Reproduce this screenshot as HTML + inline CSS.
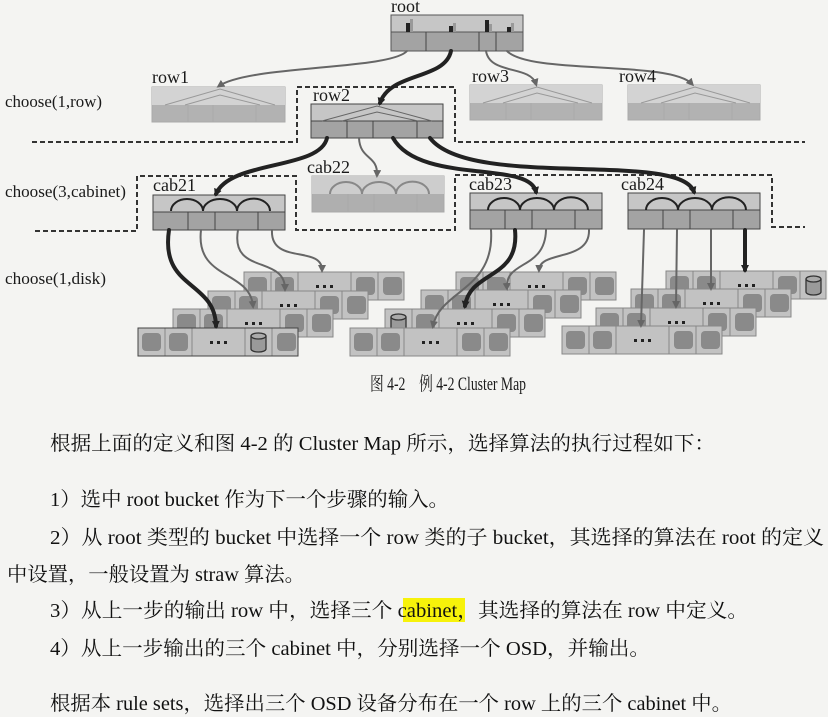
<!DOCTYPE html>
<html><head><meta charset="utf-8"><style>
html,body{margin:0;padding:0;background:#f4f4f2;}
svg{display:block;}
.lb{font-family:"Liberation Serif","Noto Serif CJK SC",serif;fill:#1a1a1a;}
.tx{font-family:"Liberation Serif","Noto Serif CJK SC",serif;fill:#111;font-size:20px;}
</style></head><body>
<svg width="828" height="717" viewBox="0 0 828 717" xmlns="http://www.w3.org/2000/svg">
<defs>
<marker id="ab" markerWidth="8" markerHeight="8" refX="5" refY="4" orient="auto" markerUnits="userSpaceOnUse"><path d="M0,0 L8,4 L0,8 z" fill="#222"/></marker>
<marker id="ag" markerWidth="8" markerHeight="8" refX="5" refY="4" orient="auto" markerUnits="userSpaceOnUse"><path d="M0,0 L8,4 L0,8 z" fill="#666"/></marker>
<g id="disk"><rect x="4" y="5" width="19" height="18" rx="4" fill="#8a8a8a"/></g>
<g id="drow">
<rect x="0" y="0" width="160" height="28" fill="#c2c2c2" stroke="#888" stroke-width="1"/>
<line x1="27" y1="0" x2="27" y2="28" stroke="#888"/><line x1="54" y1="0" x2="54" y2="28" stroke="#888"/>
<line x1="107" y1="0" x2="107" y2="28" stroke="#888"/><line x1="134" y1="0" x2="134" y2="28" stroke="#888"/>
<use href="#disk" x="0"/><use href="#disk" x="27"/><use href="#disk" x="108"/><use href="#disk" x="135"/>
<rect x="72" y="13" width="3" height="3" fill="#222"/><rect x="79" y="13" width="3" height="3" fill="#222"/><rect x="86" y="13" width="3" height="3" fill="#222"/>
</g>
<g id="cyl"><rect x="3" y="3" width="21" height="22" fill="#c2c2c2"/><path d="M6,8 v13 a7.5,3 0 0 0 15,0 v-13" fill="#9a9a9a" stroke="#333" stroke-width="1.3"/><ellipse cx="13.5" cy="8" rx="7.5" ry="3" fill="#aaa" stroke="#333" stroke-width="1.3"/></g>
</defs>

<!-- dashed outlines -->
<g fill="none" stroke="#333" stroke-width="2" stroke-dasharray="5,3">
<path d="M32 142 H297 V87 H455 V142 H805"/>
<path d="M35 231 H137 V176 H296 V230 H455 V175 H772 V227 H805"/>
</g>

<!-- root -->
<rect x="391" y="15" width="132" height="36" fill="#a3a3a3" stroke="#555"/>
<rect x="391" y="15" width="132" height="17" fill="#c6c6c6" stroke="#555"/>
<line x1="426" y1="32" x2="426" y2="51" stroke="#444"/><line x1="479" y1="32" x2="479" y2="51" stroke="#444"/><line x1="496" y1="32" x2="496" y2="51" stroke="#444"/>
<rect x="406" y="23" width="4" height="9" fill="#222"/><rect x="410" y="19" width="3" height="13" fill="#999"/>
<rect x="449" y="26" width="4" height="6" fill="#222"/><rect x="453" y="23" width="3" height="9" fill="#999"/>
<rect x="485" y="20" width="4" height="12" fill="#222"/><rect x="489" y="24" width="3" height="8" fill="#999"/>
<rect x="507" y="27" width="4" height="5" fill="#222"/><rect x="511" y="23" width="3" height="9" fill="#999"/>

<!-- rows -->
<g>
<rect x="152" y="87" width="133" height="35" fill="#b2b2b2" stroke="#aaa"/><rect x="152" y="87" width="133" height="18" fill="#d3d3d3"/>
<path d="M165 105 L220 89 L275 105 M185 105 L220 95 L260 105" fill="none" stroke="#999"/>
<line x1="188" y1="105" x2="188" y2="122" stroke="#aaa"/><line x1="213" y1="105" x2="213" y2="122" stroke="#aaa"/><line x1="256" y1="105" x2="256" y2="122" stroke="#aaa"/>

<rect x="470" y="85" width="132" height="35" fill="#b2b2b2" stroke="#aaa"/><rect x="470" y="85" width="132" height="18" fill="#d3d3d3"/>
<path d="M483 103 L537 87 L592 103 M503 103 L537 93 L578 103" fill="none" stroke="#999"/>
<line x1="506" y1="103" x2="506" y2="120" stroke="#aaa"/><line x1="531" y1="103" x2="531" y2="120" stroke="#aaa"/><line x1="574" y1="103" x2="574" y2="120" stroke="#aaa"/>

<rect x="628" y="85" width="132" height="35" fill="#b2b2b2" stroke="#aaa"/><rect x="628" y="85" width="132" height="18" fill="#d3d3d3"/>
<path d="M641 103 L695 87 L750 103 M661 103 L695 93 L736 103" fill="none" stroke="#999"/>
<line x1="664" y1="103" x2="664" y2="120" stroke="#aaa"/><line x1="689" y1="103" x2="689" y2="120" stroke="#aaa"/><line x1="732" y1="103" x2="732" y2="120" stroke="#aaa"/>

<rect x="311" y="104" width="132" height="34" fill="#a3a3a3" stroke="#444"/><rect x="311" y="104" width="132" height="17" fill="#c6c6c6" stroke="#444"/>
<path d="M322 121 L377 106 L432 121 M342 121 L377 112 L418 121" fill="none" stroke="#666"/>
<line x1="347" y1="121" x2="347" y2="138" stroke="#444"/><line x1="373" y1="121" x2="373" y2="138" stroke="#444"/><line x1="417" y1="121" x2="417" y2="138" stroke="#444"/>
</g>

<!-- cabinets -->
<g>
<rect x="153" y="195" width="132" height="35" fill="#a3a3a3" stroke="#444"/><rect x="153" y="195" width="132" height="17" fill="#c6c6c6" stroke="#444"/>
<line x1="188" y1="212" x2="188" y2="230" stroke="#444"/><line x1="215" y1="212" x2="215" y2="230" stroke="#444"/><line x1="258" y1="212" x2="258" y2="230" stroke="#444"/>
<path d="M171 211 A16 12 0 0 1 203 211 A17 12 0 0 1 237 211 A16 12 0 0 1 270 211" fill="none" stroke="#222" stroke-width="2"/>

<rect x="312" y="176" width="132" height="36" fill="#afafaf" stroke="#aaa"/><rect x="312" y="176" width="132" height="18" fill="#cdcdcd"/>
<line x1="348" y1="194" x2="348" y2="212" stroke="#aaa"/><line x1="374" y1="194" x2="374" y2="212" stroke="#aaa"/><line x1="417" y1="194" x2="417" y2="212" stroke="#aaa"/>
<path d="M330 194 A16 12 0 0 1 362 194 A17 12 0 0 1 396 194 A16 12 0 0 1 429 194" fill="none" stroke="#888" stroke-width="2"/>

<rect x="470" y="193" width="132" height="36" fill="#a3a3a3" stroke="#444"/><rect x="470" y="193" width="132" height="17" fill="#c6c6c6" stroke="#444"/>
<line x1="505" y1="210" x2="505" y2="229" stroke="#444"/><line x1="532" y1="210" x2="532" y2="229" stroke="#444"/><line x1="575" y1="210" x2="575" y2="229" stroke="#444"/>
<path d="M488 210 A16 12 0 0 1 520 210 A17 12 0 0 1 554 210 A16 12 0 0 1 588 210" fill="none" stroke="#222" stroke-width="2"/>

<rect x="628" y="193" width="132" height="36" fill="#a3a3a3" stroke="#444"/><rect x="628" y="193" width="132" height="17" fill="#c6c6c6" stroke="#444"/>
<line x1="663" y1="210" x2="663" y2="229" stroke="#444"/><line x1="690" y1="210" x2="690" y2="229" stroke="#444"/><line x1="733" y1="210" x2="733" y2="229" stroke="#444"/>
<path d="M646 210 A16 12 0 0 1 678 210 A17 12 0 0 1 712 210 A16 12 0 0 1 746 210" fill="none" stroke="#222" stroke-width="2"/>
</g>

<!-- disk rows -->
<use href="#drow" x="244" y="272"/>
<use href="#drow" x="208" y="291"/>
<use href="#drow" x="173" y="309"/>
<use href="#drow" x="138" y="328"/><use href="#cyl" x="245" y="328"/>
<rect x="138" y="328" width="160" height="28" fill="none" stroke="#444"/>

<use href="#drow" x="456" y="272"/>
<use href="#drow" x="421" y="290"/>
<use href="#drow" x="385" y="309"/><use href="#cyl" x="385" y="309"/>
<use href="#drow" x="350" y="328"/>

<use href="#drow" x="666" y="271"/><use href="#cyl" x="800" y="271"/>
<use href="#drow" x="631" y="289"/>
<use href="#drow" x="596" y="308"/>
<use href="#drow" x="562" y="326"/>

<!-- connectors -->
<g fill="none" stroke-linecap="round">
<path d="M451 51 C445 80 390 72 380 103" stroke="#222" stroke-width="4" marker-end="url(#ab)"/>
<path d="M407 51 C390 70 250 65 219 86" stroke="#666" stroke-width="2" marker-end="url(#ag)"/>
<path d="M486 51 C490 75 530 65 536 84" stroke="#666" stroke-width="2" marker-end="url(#ag)"/>
<path d="M507 51 C530 75 670 60 692 84" stroke="#666" stroke-width="2" marker-end="url(#ag)"/>

<path d="M327 138 C320 170 230 160 216 194" stroke="#222" stroke-width="4" marker-end="url(#ab)"/>
<path d="M359 138 C360 160 378 155 377 175" stroke="#666" stroke-width="2" marker-end="url(#ag)"/>
<path d="M393 138 C420 185 530 160 536 192" stroke="#222" stroke-width="4" marker-end="url(#ab)"/>
<path d="M430 138 C470 190 680 150 694 192" stroke="#222" stroke-width="4" marker-end="url(#ab)"/>

<path d="M169 230 C160 290 215 280 216 326" stroke="#222" stroke-width="4" marker-end="url(#ab)"/>
<path d="M201 230 C195 280 250 270 253 306" stroke="#666" stroke-width="2" marker-end="url(#ag)"/>
<path d="M238 230 C230 275 285 255 285 289" stroke="#666" stroke-width="2" marker-end="url(#ag)"/>
<path d="M272 230 C270 265 322 245 322 270" stroke="#666" stroke-width="2" marker-end="url(#ag)"/>

<path d="M515 230 C520 280 470 270 465 306" stroke="#222" stroke-width="4" marker-end="url(#ab)"/>
<path d="M491 230 C495 290 440 290 433 326" stroke="#666" stroke-width="2" marker-end="url(#ag)"/>
<path d="M546 230 C545 270 505 260 507 288" stroke="#666" stroke-width="2" marker-end="url(#ag)"/>
<path d="M589 230 C590 262 540 250 539 270" stroke="#666" stroke-width="2" marker-end="url(#ag)"/>

<path d="M745 230 L745 270" stroke="#222" stroke-width="4" marker-end="url(#ab)"/>
<path d="M644 230 L641 325" stroke="#666" stroke-width="2" marker-end="url(#ag)"/>
<path d="M677 230 L676 306" stroke="#666" stroke-width="2" marker-end="url(#ag)"/>
<path d="M711 230 L711 288" stroke="#666" stroke-width="2" marker-end="url(#ag)"/>
</g>

<!-- labels -->
<g class="lb" font-size="18">
<text x="391" y="12">root</text>
<text x="152" y="83">row1</text>
<text x="313" y="101">row2</text>
<text x="472" y="82">row3</text>
<text x="619" y="82">row4</text>
<text x="153" y="191">cab21</text>
<text x="307" y="173">cab22</text>
<text x="469" y="190">cab23</text>
<text x="621" y="190">cab24</text>
</g>
<g class="lb" font-size="17">
<text x="5" y="107" textLength="97" lengthAdjust="spacingAndGlyphs">choose(1,row)</text>
<text x="5" y="197" textLength="121" lengthAdjust="spacingAndGlyphs">choose(3,cabinet)</text>
<text x="5" y="284" textLength="101" lengthAdjust="spacingAndGlyphs">choose(1,disk)</text>
</g>
<text class="lb" x="370" y="390" font-size="19" textLength="156" lengthAdjust="spacingAndGlyphs">图 4-2　例 4-2 Cluster Map</text>

<!-- body text -->
<rect x="403" y="598" width="62" height="24" fill="#f7f20a"/>
<g class="tx">
<text x="50" y="450" textLength="665" lengthAdjust="spacingAndGlyphs">根据上面的定义和图 4-2 的 Cluster Map 所示，选择算法的执行过程如下：</text>
<text x="50" y="506" textLength="399" lengthAdjust="spacingAndGlyphs">1）选中 root bucket 作为下一个步骤的输入。</text>
<text x="50" y="544" textLength="774" lengthAdjust="spacingAndGlyphs">2）从 root 类型的 bucket 中选择一个 row 类的子 bucket，其选择的算法在 root 的定义</text>
<text x="7" y="581" textLength="298" lengthAdjust="spacingAndGlyphs">中设置，一般设置为 straw 算法。</text>
<text x="50" y="617" textLength="698" lengthAdjust="spacingAndGlyphs">3）从上一步的输出 row 中，选择三个 cabinet，其选择的算法在 row 中定义。</text>
<text x="50" y="655" textLength="600" lengthAdjust="spacingAndGlyphs">4）从上一步输出的三个 cabinet 中，分别选择一个 OSD，并输出。</text>
<text x="50" y="710" textLength="682" lengthAdjust="spacingAndGlyphs">根据本 rule sets，选择出三个 OSD 设备分布在一个 row 上的三个 cabinet 中。</text>
</g>
</svg>
</body></html>
